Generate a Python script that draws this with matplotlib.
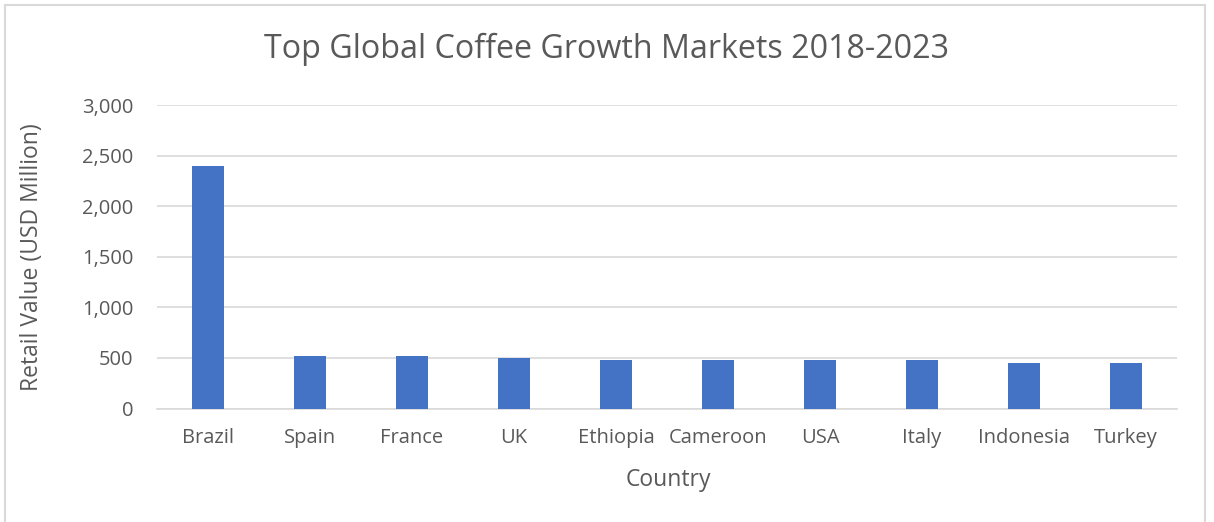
import matplotlib
matplotlib.use("Agg")
import matplotlib.pyplot as plt
from matplotlib.patches import Rectangle

# retail value growth by country, USD million
countries = ["Brazil", "Spain", "France", "UK", "Ethiopia", "Cameroon",
             "USA", "Italy", "Indonesia", "Turkey"]
values = [2400, 520, 520, 500, 480, 480, 480, 480, 450, 445]
yticks = [0, 500, 1000, 1500, 2000, 2500, 3000]

W, H = 1214, 522
txt = "#595959"
grid = "#d9d9d9"
bar_col = "#4472c4"

plt.rcParams["font.family"] = ["Open Sans", "DejaVu Sans"]

fig = plt.figure(figsize=(W / 100, H / 100), dpi=100)
fig.patch.set_facecolor("white")

# chart frame
fig.patches.append(Rectangle((5 / W, -0.05), 1200 / W, 1 - 5 / H + 0.05,
                             transform=fig.transFigure, fill=False,
                             edgecolor=grid, linewidth=1.5))

ax = fig.add_axes([157 / W, 1 - 408.5 / H, 1020 / W, 303.5 / H])
x = range(len(countries))
ax.bar(x, values, width=0.31, color=bar_col, zorder=3)

ax.set_ylim(0, 3000)
ax.set_xlim(-0.5, len(countries) - 0.5)
ax.set_yticks(yticks)
ax.set_yticklabels([f"{v:,}" for v in yticks])
ax.set_xticks(list(x))
ax.set_xticklabels(countries)
ax.yaxis.grid(True, color=grid, linewidth=1.2, zorder=0)
for s in ["top", "right", "left"]:
    ax.spines[s].set_visible(False)
ax.spines["bottom"].set_color(grid)
ax.spines["bottom"].set_linewidth(1.2)
ax.tick_params(axis="both", length=0, colors=txt, labelsize=14.5)
ax.tick_params(axis="y", pad=17)
ax.tick_params(axis="x", pad=14)

fig.text(607 / W, 1 - 49 / H, "Top Global Coffee Growth Markets 2018-2023",
         ha="center", va="center", fontsize=23.2, color=txt)
fig.text(668 / W, 1 - 480 / H, "Country", ha="center", va="center",
         fontsize=16.5, color=txt)
fig.text(32 / W, 1 - 257 / H, "Retail Value (USD Million)", ha="center",
         va="center", rotation=90, fontsize=16.5, color=txt)

fig.savefig("out.png", dpi=100)
